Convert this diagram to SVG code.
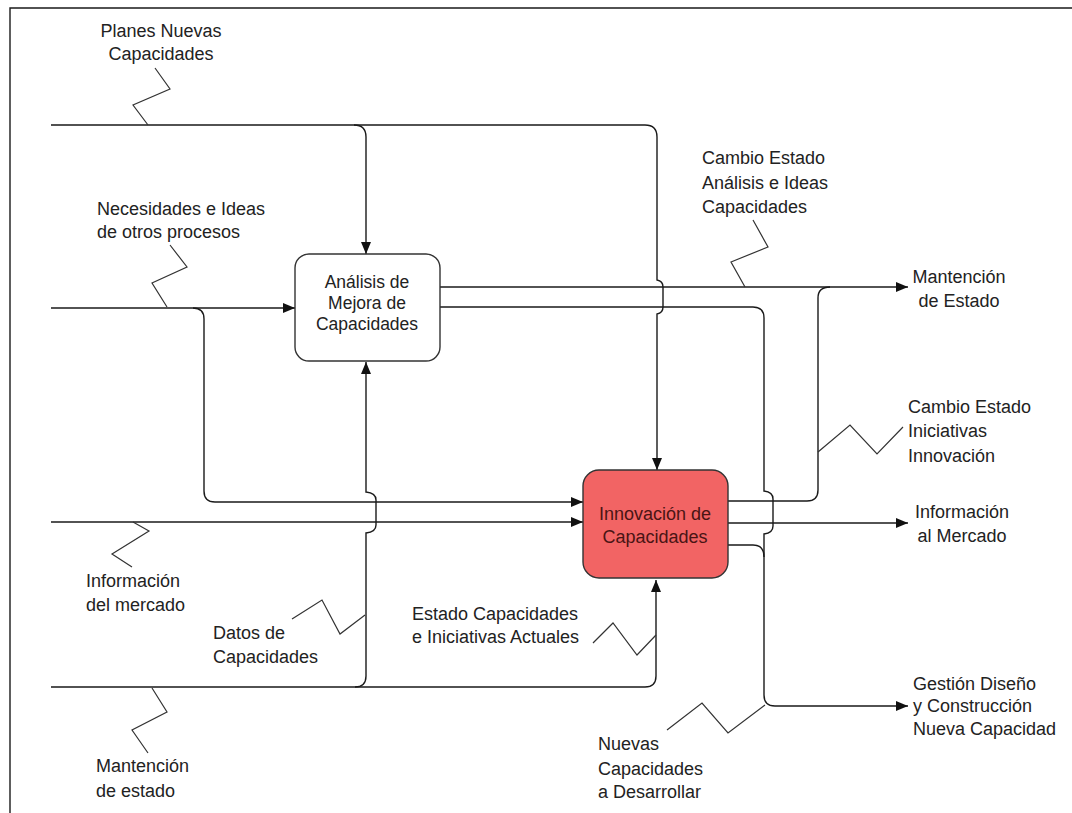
<svg xmlns="http://www.w3.org/2000/svg" width="1072" height="813" viewBox="0 0 1072 813">
  <style>
    .ln { fill: none; stroke: #1a1a1a; stroke-width: 1.4; }
    .zz { fill: none; stroke: #333; stroke-width: 1.2; }
    .lbl { font-family: "Liberation Sans", Arial, sans-serif; font-size: 18px; fill: #222; }
    .mid { text-anchor: middle; }
    .box { stroke: #333; stroke-width: 1.4; }
  </style>
  <defs>
    <marker id="arr" markerUnits="userSpaceOnUse" markerWidth="12" markerHeight="10" refX="12" refY="5" orient="auto">
      <path d="M0,0 L12,5 L0,10 z" fill="#111"/>
    </marker>
  </defs>

  <rect width="1072" height="813" fill="#fff"/>
  <!-- frame -->
  <path class="ln" d="M10,813 V8 H1072"/>

  <!-- connectors -->
  <g id="connectors">
    <!-- Planes Nuevas Capacidades (control) -->
    <path class="ln" d="M51,125 H645 Q657,125 657,137 V280 Q663,281 663,287 V307 Q663,313 657,314 V470" marker-end="url(#arr)"/>
    <path class="ln" d="M354,125 Q366,125 366,137 V254" marker-end="url(#arr)"/>

    <!-- Necesidades e Ideas de otros procesos -->
    <path class="ln" d="M51,308 H295" marker-end="url(#arr)"/>
    <path class="ln" d="M193,308 Q204,308 204,319 V491 Q204,502 215,502 H583" marker-end="url(#arr)"/>

    <!-- Información del mercado -->
    <path class="ln" d="M51,522 H583" marker-end="url(#arr)"/>

    <!-- Mantención de estado (mechanism) -->
    <path class="ln" d="M51,687 H645 Q656,687 656,676 V580" marker-end="url(#arr)"/>
    <path class="ln" d="M355,687 Q366,687 366,676 V533 Q376,532 376,525 V500 Q376,493 366,492 V362" marker-end="url(#arr)"/>

    <!-- Análisis outputs -->
    <path class="ln" d="M440,287 H908" marker-end="url(#arr)"/>
    <path class="ln" d="M440,307 H753 Q764,307 764,318 V491 Q773,492 773,499 V526 Q773,533 764,534 V695 Q764,706 775,706 H908" marker-end="url(#arr)"/>

    <!-- Innovación outputs -->
    <path class="ln" d="M728,501 H807 Q818,501 818,490 V298 Q818,287 830,287"/>
    <path class="ln" d="M728,523 H908" marker-end="url(#arr)"/>
    <path class="ln" d="M728,545 H753 Q764,545 764,557"/>

    <!-- label leaders -->
    <path class="zz" d="M155,68 L170,89 L133,105 L148,125"/>
    <path class="zz" d="M170,245 L187,267 L152,283 L167,307"/>
    <path class="zz" d="M753,220 L768,247 L731,262 L745,287"/>
    <path class="zz" d="M818,452 L850,425 L877,454 L903,427"/>
    <path class="zz" d="M133,522 L149,531 L112,554 L132,567"/>
    <path class="zz" d="M292,619 L322,600 L340,634 L365,615"/>
    <path class="zz" d="M593,643 L613,623 L637,655 L656,635"/>
    <path class="zz" d="M152,688 L167,712 L132,730 L148,753"/>
    <path class="zz" d="M667,730 L702,703 L728,733 L765,705"/>
  </g>

  <!-- activity: Análisis de Mejora de Capacidades -->
  <g id="analisis">
    <rect class="box" x="295" y="254" width="145" height="107" rx="14" fill="#fff"/>
    <text class="lbl mid" style="font-size:17.5px" x="367" y="288">Análisis de</text>
    <text class="lbl mid" style="font-size:17.5px" x="367" y="309">Mejora de</text>
    <text class="lbl mid" style="font-size:17.5px" x="367" y="330">Capacidades</text>
  </g>

  <!-- activity: Innovación de Capacidades -->
  <g id="innovacion">
    <rect class="box" x="583" y="470" width="145" height="108" rx="16" fill="#f26464"/>
    <text class="lbl mid" x="655" y="520" fill="#4a1414" style="fill:#4a1414">Innovación de</text>
    <text class="lbl mid" x="655" y="543" style="fill:#4a1414">Capacidades</text>
  </g>

  <!-- labels -->
  <g id="lbl-planes">
    <text class="lbl mid" x="161" y="37">Planes Nuevas</text>
    <text class="lbl mid" x="161" y="60">Capacidades</text>
  </g>
  <g id="lbl-necesidades">
    <text class="lbl" x="97" y="215">Necesidades e Ideas</text>
    <text class="lbl" x="97" y="238">de otros procesos</text>
  </g>
  <g id="lbl-cambio-analisis">
    <text class="lbl" x="702" y="164">Cambio Estado</text>
    <text class="lbl" x="702" y="189">Análisis e Ideas</text>
    <text class="lbl" x="702" y="213">Capacidades</text>
  </g>
  <g id="lbl-mantencion-estado">
    <text class="lbl mid" x="959" y="283">Mantención</text>
    <text class="lbl mid" x="959" y="307">de Estado</text>
  </g>
  <g id="lbl-cambio-iniciativas">
    <text class="lbl" x="908" y="413">Cambio Estado</text>
    <text class="lbl" x="908" y="437">Iniciativas</text>
    <text class="lbl" x="908" y="462">Innovación</text>
  </g>
  <g id="lbl-info-mercado-out">
    <text class="lbl mid" x="962" y="518">Información</text>
    <text class="lbl mid" x="962" y="542">al Mercado</text>
  </g>
  <g id="lbl-gestion">
    <text class="lbl" x="913" y="690">Gestión Diseño</text>
    <text class="lbl" x="913" y="712">y Construcción</text>
    <text class="lbl" x="913" y="735">Nueva Capacidad</text>
  </g>
  <g id="lbl-nuevas">
    <text class="lbl" x="598" y="750">Nuevas</text>
    <text class="lbl" x="598" y="775">Capacidades</text>
    <text class="lbl" x="598" y="798">a Desarrollar</text>
  </g>
  <g id="lbl-estado-actuales">
    <text class="lbl" x="412" y="620">Estado Capacidades</text>
    <text class="lbl" x="412" y="643">e Iniciativas Actuales</text>
  </g>
  <g id="lbl-info-mercado-in">
    <text class="lbl" x="86" y="587">Información</text>
    <text class="lbl" x="86" y="611">del mercado</text>
  </g>
  <g id="lbl-datos">
    <text class="lbl" x="213" y="639">Datos de</text>
    <text class="lbl" x="213" y="663">Capacidades</text>
  </g>
  <g id="lbl-mantencion-in">
    <text class="lbl" x="96" y="772">Mantención</text>
    <text class="lbl" x="96" y="797">de estado</text>
  </g>
</svg>
